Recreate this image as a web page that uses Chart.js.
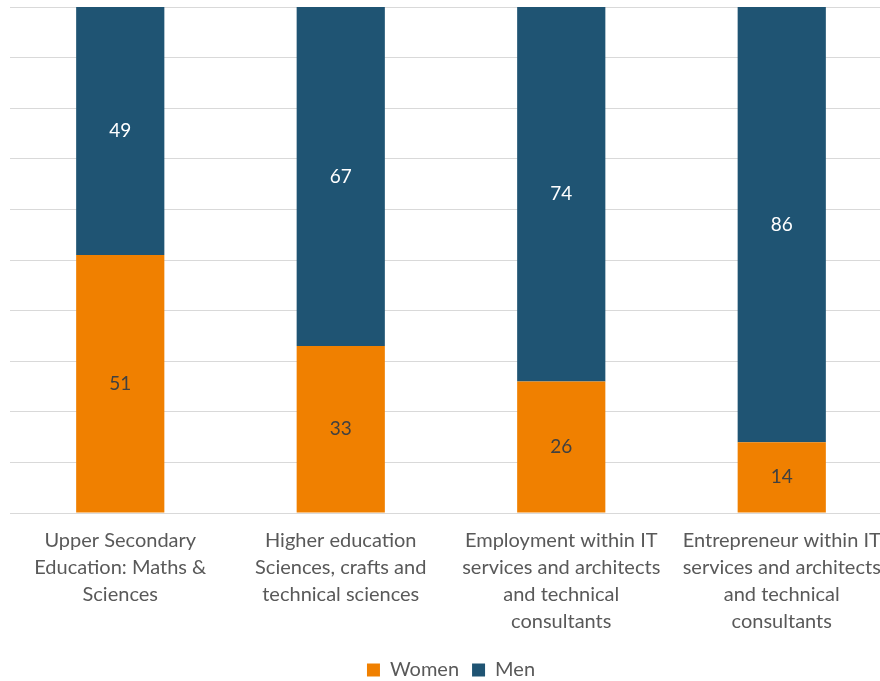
<!DOCTYPE html>
<html>
<head>
<meta charset="utf-8">
<script src="https://cdn.jsdelivr.net/npm/chart.js@4.4.0/dist/chart.umd.min.js"></script>
<style>
  html, body { margin: 0; padding: 0; background: #fff; overflow: hidden; }
  #wrap { width: 900px; height: 681px; }
</style>
</head>
<body>
<div id="wrap"><canvas id="c" width="900" height="681"></canvas></div>
<script>
const categories = [
  ["Upper Secondary", "Education: Maths &", "Sciences"],
  ["Higher education", "Sciences, crafts and", "technical sciences"],
  ["Employment within IT", "services and architects", "and technical", "consultants"],
  ["Entrepreneur within IT", "services and architects", "and technical", "consultants"]
];
const women = [51, 33, 26, 14];
const men = [49, 67, 74, 86];
const yTicks = [0, 10, 20, 30, 40, 50, 60, 70, 80, 90, 100];

const FONT = "Lato, 'Open Sans', sans-serif";

const valueLabels = {
  id: 'valueLabels',
  afterDatasetsDraw(chart) {
    const ctx = chart.ctx;
    chart.data.datasets.forEach((ds, di) => {
      const meta = chart.getDatasetMeta(di);
      meta.data.forEach((bar, i) => {
        const p = bar.getProps(['x', 'y', 'base'], true);
        const cy = (p.y + p.base) / 2;
        ctx.save();
        ctx.font = "19px " + FONT;
        ctx.fillStyle = ds.labelColor;
        ctx.textAlign = 'center';
        ctx.textBaseline = 'middle';
        ctx.fillText(String(ds.data[i]), p.x, cy);
        ctx.restore();
      });
    });
  }
};

new Chart(document.getElementById('c'), {
  type: 'bar',
  data: {
    labels: categories,
    datasets: [
      { label: 'Women', data: women, backgroundColor: '#F08000', labelColor: '#404040',
        categoryPercentage: 1, barPercentage: 0.4 },
      { label: 'Men', data: men, backgroundColor: '#1F5473', labelColor: '#ffffff',
        categoryPercentage: 1, barPercentage: 0.4 }
    ]
  },
  options: {
    responsive: false,
    animation: false,
    layout: { padding: { left: 10, right: 8, top: 7, bottom: -9 } },
    plugins: {
      legend: {
        position: 'bottom',
        labels: {
          boxWidth: 13, boxHeight: 13, padding: 13,
          color: '#595959',
          font: { family: FONT, size: 20 }
        }
      },
      tooltip: { enabled: false }
    },
    scales: {
      x: {
        stacked: true,
        grid: { display: false },
        border: { display: false },
        afterFit(scale) { scale.height += 6; },
        ticks: {
          autoSkip: false, maxRotation: 0, minRotation: 0,
          color: '#595959',
          font: { family: FONT, size: 20, lineHeight: 1.35 },
          padding: 6
        }
      },
      y: {
        stacked: true,
        min: 0, max: 100,
        afterBuildTicks(scale) { scale.ticks = yTicks.map(v => ({ value: v })); },
        grid: { color: '#D9D9D9', lineWidth: 1, drawTicks: false },
        border: { display: false },
        ticks: { display: false }
      }
    }
  },
  plugins: [valueLabels]
});
</script>
</body>
</html>
